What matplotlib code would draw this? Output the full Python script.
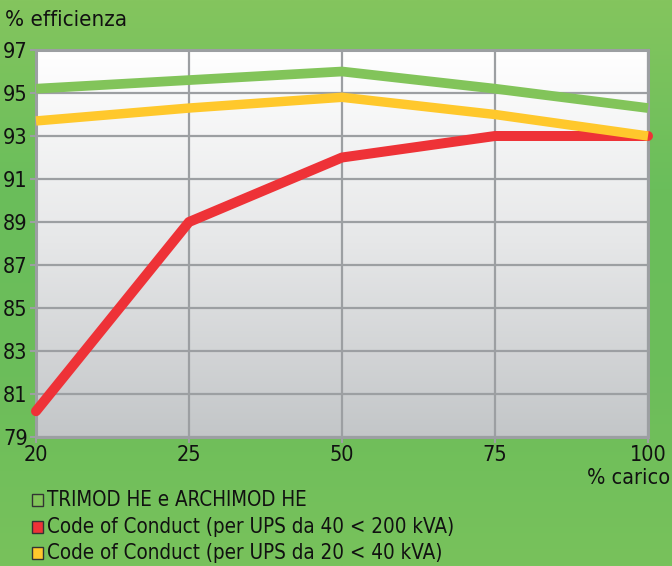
import numpy as np
import matplotlib
matplotlib.use("Agg")
import matplotlib.pyplot as plt
from matplotlib.patches import Rectangle
from matplotlib import font_manager as fm
from matplotlib.colors import LinearSegmentedColormap

categories = ["20", "25", "50", "75", "100"]
trimod = [95.2, 95.6, 96.0, 95.2, 94.3]
code_40_200 = [80.2, 89.0, 92.0, 93.0, 93.0]
code_20_40 = [93.7, 94.3, 94.8, 94.0, 93.0]
yticks = [79, 81, 83, 85, 87, 89, 91, 93, 95, 97]
legend_labels = ["TRIMOD HE e ARCHIMOD HE",
                 "Code of Conduct (per UPS da 40 < 200 kVA)",
                 "Code of Conduct (per UPS da 20 < 40 kVA)"]

cond = [f for f in fm.fontManager.ttflist
        if (str(f.stretch) in ("condensed", "semi-condensed", "75", "87.5") or "Condensed" in f.fname or "Narrow" in f.name)]
fam = cond[0].name if cond else "DejaVu Sans"
stretch = "condensed" if cond else "normal"
plt.rcParams["font.family"] = [fam, "DejaVu Sans"]
plt.rcParams["font.stretch"] = stretch

GREEN = "#82c45a"
RED = "#ee3237"
YELLOW = "#ffc82c"
GRID = "#9c9fa2"
TXT = "#111111"
FS = 15.5

fig = plt.figure(figsize=(6.72, 5.66), dpi=100)

bg = fig.add_axes([0, 0, 1, 1], zorder=-10)
grad = np.linspace(0, 1, 256).reshape(-1, 1)
bgcmap = LinearSegmentedColormap.from_list("bg", ["#84c55e", "#6abe5b", "#6cbd5a", "#78c25c"])
bg.imshow(grad, aspect="auto", cmap=bgcmap, extent=[0, 1, 0, 1], origin="upper")
bg.set_axis_off()

ax = fig.add_axes([36/672, 1-437/566, (648-36)/672, (437-50)/566])
ax.set_xlim(0, 4)
ax.set_ylim(79, 97)
pcmap = LinearSegmentedColormap.from_list("pa", ["#ffffff", "#e6e7e8", "#c3c6c8"])
ax.imshow(grad, aspect="auto", cmap=pcmap, extent=[0, 4, 79, 97], origin="upper", zorder=0)

x = np.arange(len(categories))
ax.set_xticks(x)
ax.set_xticklabels(categories)
ax.set_yticks(yticks)
ax.set_yticklabels([str(v) for v in yticks])
ax.grid(True, color=GRID, linewidth=1.6, zorder=1)
for s in ax.spines.values():
    s.set_color(GRID)
    s.set_linewidth(2.2)
ax.tick_params(axis="both", colors=GRID, length=4, width=1.5, labelsize=FS,
               labelcolor=TXT, pad=2)

ax.plot(x, code_40_200, color=RED, lw=7.2, solid_capstyle="round", solid_joinstyle="round", zorder=3, clip_on=False)
ax.plot(x, code_20_40, color=YELLOW, lw=6.8, solid_capstyle="butt", zorder=4, clip_on=False)
ax.plot(x, trimod, color=GREEN, lw=7.0, solid_capstyle="butt", zorder=5, clip_on=False)

fig.text(5/672, 1-20/566, "% efficienza", fontsize=FS + 0.5, color=TXT, va="center", ha="left")
fig.text(670/672, 1-478/566, "% carico", fontsize=FS, color=TXT, va="center", ha="right")

cols = [GREEN, RED, YELLOW]
ys = [500, 527, 553]
for lab, c, yy in zip(legend_labels, cols, ys):
    fig.patches.append(Rectangle((32/672, 1-(yy+6)/566), 11/672, 12/566,
                                 transform=fig.transFigure, facecolor=c,
                                 edgecolor="#333333", linewidth=1))
    fig.text(47/672, 1-yy/566, lab, fontsize=14.8, color=TXT, va="center", ha="left")

fig.savefig("out.png", dpi=100)
